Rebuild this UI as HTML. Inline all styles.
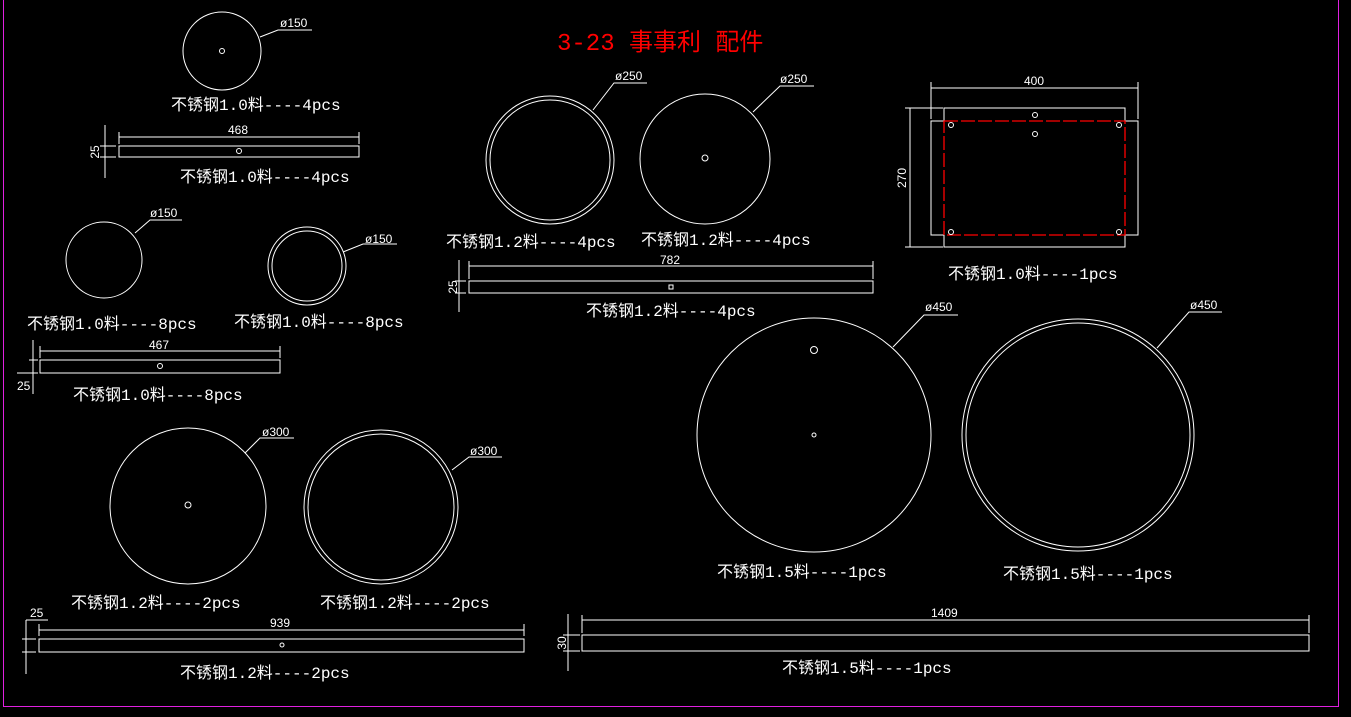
<!DOCTYPE html>
<html><head><meta charset="utf-8"><style>
html,body{margin:0;padding:0;background:#000;width:1351px;height:717px;overflow:hidden}
svg{display:block}
text{font-family:"Liberation Sans","WenQuanYi Zen Hei",sans-serif;fill:#fff}
.l{font-size:16px;font-family:"Liberation Mono","Noto Sans CJK SC",monospace}
.d{font-size:12px}
</style></head><body>
<svg width="1351" height="717" viewBox="0 0 1351 717" stroke="#fff" fill="none" stroke-width="1">
<line x1="3.5" y1="0" x2="3.5" y2="706.5" stroke="#e020e0"/>
<line x1="3" y1="706.5" x2="1338.5" y2="706.5" stroke="#e020e0"/>
<line x1="1338.5" y1="0" x2="1338.5" y2="707" stroke="#e020e0"/>
<text x="557" y="50" style="font-size:24px;fill:#f00;font-family:'Liberation Mono','Noto Sans CJK SC',monospace" stroke="none">3-23 事事利 配件</text>

<circle cx="222" cy="51" r="39"/><circle cx="222" cy="51" r="2.5"/>
<polyline points="260,37 278,30 312,30"/><text x="280" y="27" class="d" stroke="none">ø150</text>
<text x="171" y="110" class="l" stroke="none">不锈钢1.0料----4pcs</text>
<rect x="119" y="146" width="240" height="11"/><circle cx="239" cy="151" r="2.5"/>
<line x1="119" y1="137" x2="359" y2="137"/><line x1="119" y1="132" x2="119" y2="144"/><line x1="359" y1="132" x2="359" y2="144"/>
<text x="228" y="134" class="d" stroke="none">468</text>
<line x1="105" y1="125" x2="105" y2="178"/><line x1="100" y1="146" x2="116" y2="146"/><line x1="100" y1="157" x2="116" y2="157"/>
<text transform="translate(99,152) rotate(-90)" class="d" text-anchor="middle" stroke="none">25</text>
<text x="180" y="182" class="l" stroke="none">不锈钢1.0料----4pcs</text>

<circle cx="104" cy="260" r="38"/>
<polyline points="135,233 150,220 182,220"/><text x="150" y="217" class="d" stroke="none">ø150</text>
<text x="27" y="329" class="l" stroke="none">不锈钢1.0料----8pcs</text>
<circle cx="307" cy="266" r="39"/><circle cx="307" cy="266" r="35"/>
<polyline points="343,252 363,244 397,244"/><text x="365" y="243" class="d" stroke="none">ø150</text>
<text x="234" y="327" class="l" stroke="none">不锈钢1.0料----8pcs</text>
<rect x="40" y="360" width="240" height="13"/><circle cx="160" cy="366" r="2.5"/>
<line x1="40" y1="351" x2="280" y2="351"/><line x1="40" y1="346" x2="40" y2="358"/><line x1="280" y1="346" x2="280" y2="358"/>
<text x="149" y="349" class="d" stroke="none">467</text>
<line x1="33" y1="340" x2="33" y2="394"/><line x1="29" y1="360" x2="38" y2="360"/><line x1="17" y1="373" x2="38" y2="373"/>
<text x="17" y="390" class="d" stroke="none">25</text>
<text x="73" y="400" class="l" stroke="none">不锈钢1.0料----8pcs</text>

<circle cx="188" cy="506" r="78"/><circle cx="188" cy="505" r="3"/>
<polyline points="245,453 260,438 294,438"/><text x="262" y="436" class="d" stroke="none">ø300</text>
<text x="71" y="608" class="l" stroke="none">不锈钢1.2料----2pcs</text>
<circle cx="381" cy="507" r="77"/><circle cx="381" cy="507" r="73"/>
<polyline points="452,470 469,457 502,457"/><text x="470" y="455" class="d" stroke="none">ø300</text>
<text x="320" y="608" class="l" stroke="none">不锈钢1.2料----2pcs</text>
<rect x="39" y="639" width="485" height="13"/><circle cx="282" cy="645" r="2"/>
<line x1="39" y1="630" x2="524" y2="630"/><line x1="39" y1="624" x2="39" y2="636"/><line x1="524" y1="624" x2="524" y2="636"/>
<text x="270" y="627" class="d" stroke="none">939</text>
<line x1="26" y1="620" x2="26" y2="674"/><line x1="26" y1="620" x2="48" y2="620"/><line x1="22" y1="639" x2="36" y2="639"/><line x1="22" y1="652" x2="36" y2="652"/>
<text x="30" y="617" class="d" stroke="none">25</text>
<text x="180" y="678" class="l" stroke="none">不锈钢1.2料----2pcs</text>

<circle cx="550" cy="160" r="64"/><circle cx="550" cy="160" r="60"/>
<polyline points="593,110 614,83 647,83"/><text x="615" y="80" class="d" stroke="none">ø250</text>
<text x="446" y="247" class="l" stroke="none">不锈钢1.2料----4pcs</text>
<circle cx="705" cy="159" r="65"/><circle cx="705" cy="158" r="3"/>
<polyline points="753,112 780,86 814,86"/><text x="780" y="83" class="d" stroke="none">ø250</text>
<text x="641" y="245" class="l" stroke="none">不锈钢1.2料----4pcs</text>
<rect x="469" y="281" width="404" height="12"/><rect x="669" y="285" width="4" height="4"/>
<line x1="469" y1="266" x2="873" y2="266"/><line x1="469" y1="261" x2="469" y2="279"/><line x1="873" y1="261" x2="873" y2="279"/>
<text x="660" y="264" class="d" stroke="none">782</text>
<line x1="459" y1="260" x2="459" y2="312"/><line x1="455" y1="281" x2="466" y2="281"/><line x1="455" y1="293" x2="466" y2="293"/>
<text transform="translate(457,287) rotate(-90)" class="d" text-anchor="middle" stroke="none">25</text>
<text x="586" y="316" class="l" stroke="none">不锈钢1.2料----4pcs</text>

<polyline points="944,121 944,108 1125,108 1125,121"/>
<polyline points="944,235 944,247 1125,247 1125,235"/>
<polyline points="944,121 931,121 931,235 944,235"/>
<polyline points="1125,121 1138,121 1138,235 1125,235"/>
<rect x="944" y="121" width="181" height="114" stroke="#f00" stroke-width="1.3" stroke-dasharray="14,3"/>
<circle cx="951" cy="125" r="2.5"/><circle cx="1119" cy="125" r="2.5"/><circle cx="951" cy="232" r="2.5"/><circle cx="1119" cy="232" r="2.5"/>
<circle cx="1035" cy="115" r="2.5"/><circle cx="1035" cy="134" r="2.5"/>
<line x1="931" y1="88" x2="1138" y2="88"/><line x1="931" y1="82" x2="931" y2="119"/><line x1="1138" y1="82" x2="1138" y2="119"/>
<text x="1024" y="85" class="d" stroke="none">400</text>
<line x1="910" y1="108" x2="910" y2="247"/><line x1="905" y1="108" x2="943" y2="108"/><line x1="905" y1="247" x2="943" y2="247"/>
<text transform="translate(906,178) rotate(-90)" class="d" text-anchor="middle" stroke="none">270</text>
<text x="948" y="279" class="l" stroke="none">不锈钢1.0料----1pcs</text>

<circle cx="814" cy="435" r="117"/><circle cx="814" cy="350" r="3.5"/><circle cx="814" cy="435" r="2"/>
<polyline points="893,347 924,315 958,315"/><text x="925" y="311" class="d" stroke="none">ø450</text>
<text x="717" y="577" class="l" stroke="none">不锈钢1.5料----1pcs</text>
<circle cx="1078" cy="435" r="116"/><circle cx="1078" cy="435" r="112"/>
<polyline points="1157,348 1189,312 1222,312"/><text x="1190" y="309" class="d" stroke="none">ø450</text>
<text x="1003" y="579" class="l" stroke="none">不锈钢1.5料----1pcs</text>
<rect x="582" y="635" width="727" height="16"/>
<line x1="582" y1="620" x2="1309" y2="620"/><line x1="582" y1="615" x2="582" y2="633"/><line x1="1309" y1="615" x2="1309" y2="633"/>
<text x="931" y="617" class="d" stroke="none">1409</text>
<line x1="568" y1="614" x2="568" y2="671"/><line x1="563" y1="635" x2="580" y2="635"/><line x1="563" y1="651" x2="580" y2="651"/>
<text transform="translate(566,643) rotate(-90)" class="d" text-anchor="middle" stroke="none">30</text>
<text x="782" y="673" class="l" stroke="none">不锈钢1.5料----1pcs</text>
</svg>
</body></html>
